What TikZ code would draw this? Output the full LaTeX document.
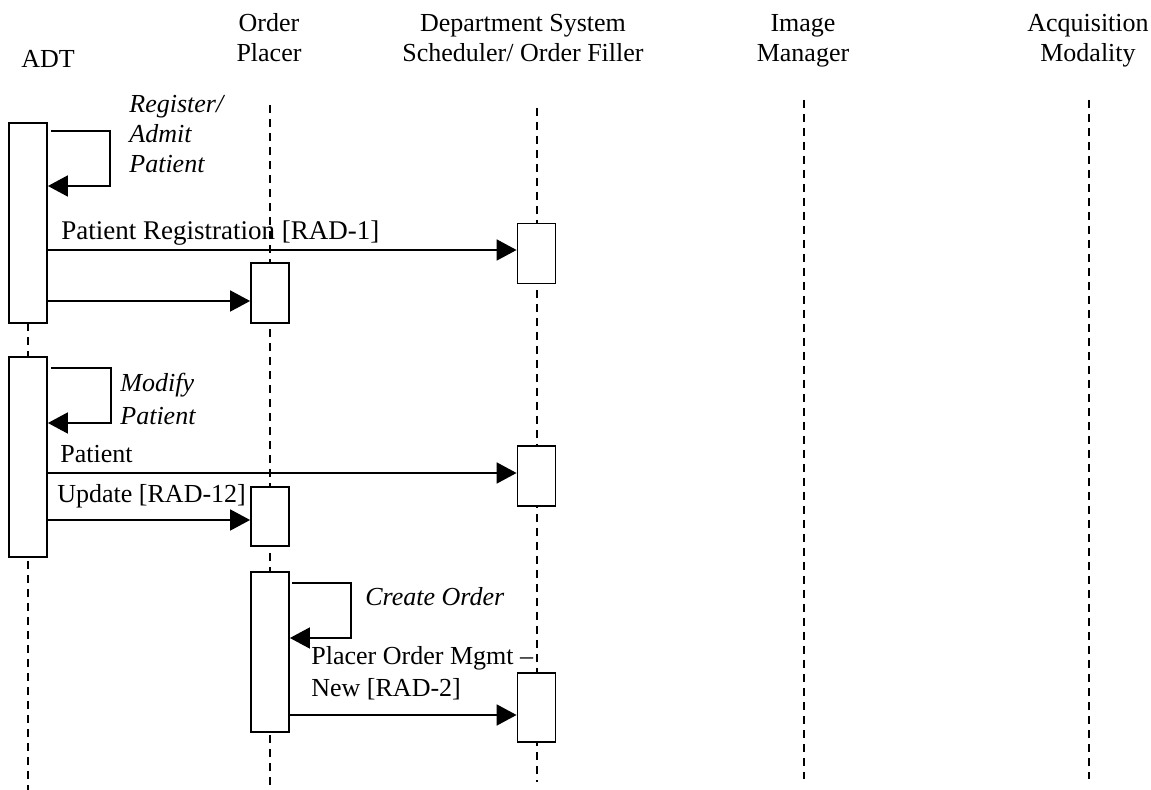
\documentclass[tikz,border=0pt]{standalone}
\usepackage{fontspec}
\setmainfont{Liberation Serif}
\usetikzlibrary{arrows.meta}
\begin{document}
\begin{tikzpicture}[x=0.5pt,y=-0.5pt,
  every node/.style={font=\fontsize{13}{15}\selectfont, inner sep=0pt},
  life/.style={line width=0.7pt, dash pattern=on 4pt off 3pt},
  actbox/.style={draw, fill=white, line width=0.9pt, minimum width=19pt, inner sep=0pt},
  msg/.style={line width=0.9pt, -{Triangle[length=10pt,width=10.5pt]}},
  lbl/.style={anchor=base west, align=left},
  ital/.style={lbl, font=\fontsize{13}{15}\selectfont\itshape},
  head/.style={anchor=base, align=center, font=\fontsize{13}{15}\selectfont},
]
\useasboundingbox (0,0) rectangle (1151,790);

% headers (anchor = baseline of last line)
\node[anchor=base west] (hadt) at (21,68) {ADT};
\node[head] (hop) at (269,62) {Order\\Placer};
\node[head] (hdss) at (523,62) {Department System\\Scheduler/ Order Filler};
\node[head] (him) at (803,62) {Image\\Manager};
\node[head] (ham) at (1088,62) {Acquisition\\Modality};

% lifeline end points
\coordinate (adtTop) at (28,323);
\coordinate (adtBot) at (28,790);
\coordinate (opTop) at (270,105);
\coordinate (opBot) at (270,790);
\coordinate (dsTop) at (537,108);
\coordinate (dsBot) at (537,782);
\coordinate (imTop) at (804,100);
\coordinate (imBot) at (804,779);
\coordinate (amTop) at (1089,100);
\coordinate (amBot) at (1089,779);

\draw[life] (adtTop) -- (adtBot);
\draw[life] (opTop) -- (opBot);
\draw[life] (dsTop) -- (dsBot);
\draw[life] (imTop) -- (imBot);
\draw[life] (amTop) -- (amBot);

% activation boxes
\node[actbox, minimum height=100pt] (a1) at (28,223) {};
\node[actbox, minimum height=100pt] (a2) at (28,457) {};
\node[actbox, minimum height=30pt] (o1) at (270,293) {};
\node[actbox, minimum height=29.5pt] (o2) at (270,516.5) {};
\node[actbox, minimum height=80pt] (o3) at (270,652) {};
\node[actbox, minimum height=30pt] (d1) at (536.5,253.5) {};
\node[actbox, minimum height=30pt] (d2) at (536.5,476) {};
\node[actbox, minimum height=34.5pt] (d3) at (536.5,707.5) {};

% self messages
\draw[msg] ([xshift=1.5pt]a1.east |- 0,131) -| (110,186) -- (a1.east |- 0,186);
\draw[msg] ([xshift=1.5pt]a2.east |- 0,368) -| (111,423) -- (a2.east |- 0,423);
\draw[msg] ([xshift=1pt]o3.east |- 0,583) -| (351,638) -- (o3.east |- 0,638);

% messages
\draw[msg] (a1.east |- 0,250) -- (d1.west |- 0,250);
\draw[msg] (a1.east |- 0,301) -- (o1.west |- 0,301);
\draw[msg] (a2.east |- 0,473) -- (d2.west |- 0,473);
\draw[msg] (a2.east |- 0,520) -- (o2.west |- 0,520);
\draw[msg] (o3.east |- 0,715) -- (d3.west |- 0,715);

% labels (anchor = baseline of last line)
\node[ital] (t1) at (129,173) {Register/\\Admit\\Patient};
\node[ital, font=\fontsize{13}{16.5}\selectfont\itshape] (t2) at (120,425) {Modify\\Patient};
\node[ital] (t3) at (365,605) {Create Order};
\node[lbl, font=\fontsize{13.5}{15}\selectfont] (m1) at (61,240) {Patient Registration [RAD-1]};
\node[lbl] (m2) at (60,463) {Patient};
\node[lbl] (m3) at (57,503) {Update [RAD-12]};
\node[lbl, font=\fontsize{13}{16.5}\selectfont] (m4) at (311,697) {Placer Order Mgmt –\\New [RAD-2]};
\end{tikzpicture}
\end{document}
